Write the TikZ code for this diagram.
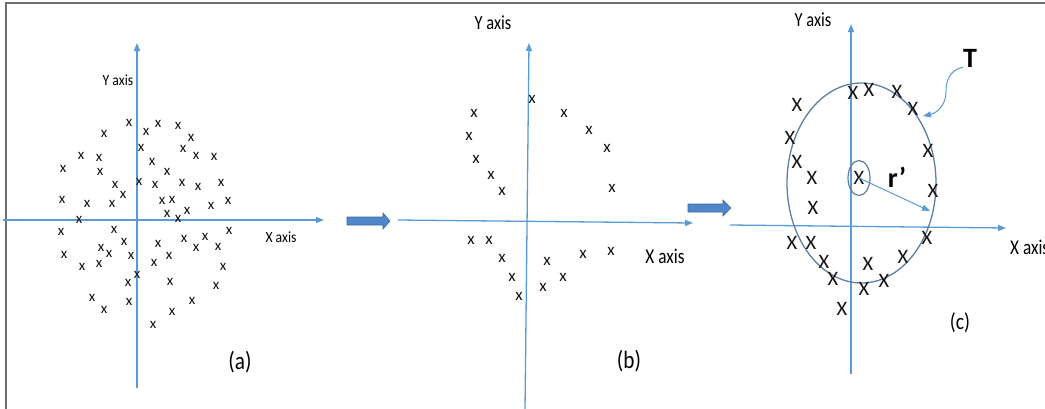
\documentclass[tikz,border=0pt]{standalone}
\usepackage{fontspec}
\setmainfont{Carlito}
\usetikzlibrary{arrows.meta}
\definecolor{axisblue}{RGB}{91,155,213}
\definecolor{ringblue}{RGB}{96,126,160}
\definecolor{blockfill}{RGB}{79,135,200}
\definecolor{blockline}{RGB}{60,105,160}
\definecolor{framegray}{RGB}{110,110,110}
\definecolor{ink}{RGB}{20,20,20}
\tikzset{
  axisline/.style={axisblue, line width=1.3pt, -{Triangle[length=8pt,width=6pt]}},
  ptA/.style={inner sep=0pt, text=ink, font=\fontsize{15}{15}\selectfont},
  ptB/.style={inner sep=0pt, text=ink, font=\fontsize{17}{17}\selectfont},
  ptC/.style={inner sep=0pt, text=ink, font=\fontsize{20.5}{21}\selectfont},
  lblsmall/.style={inner sep=0pt, xscale=0.88, font=\fontsize{15.5}{16}\selectfont},
  lblbig/.style={inner sep=0pt, xscale=0.82, font=\fontsize{21}{22}\selectfont},
  caption/.style={inner sep=0pt, xscale=0.85, font=\fontsize{25}{26}\selectfont},
  blockarrow/.style={fill=blockfill, draw=blockline, line width=0.6pt},
}
\begin{document}
\begin{tikzpicture}[x=1pt,y=-1pt]
\useasboundingbox (0,0) rectangle (1045,408);
% frame
\draw[framegray, line width=2pt] (5.5,410) -- (5.5,2.5) -- (1046,2.5);

% ---------- panel (a) ----------
\coordinate (aYb) at (137,388);
\coordinate (aYt) at (137,43);
\coordinate (aXl) at (3,220);
\coordinate (aXr) at (324,220);
\draw[axisline] (aYb) -- (aYt);
\draw[axisline] (aXl) -- (aXr);
\node[lblsmall] (aYl) at (118,80) {Y axis};
\node[lblsmall] (aXlab) at (281,237) {X axis};
\node[caption] (acap) at (240,362) {(a)};
\foreach \px/\py [count=\i] in {
 129/123,104/134,146/132,158/124,178/126,191/138,141/148,183/149,196/156,214/157,
 81/156,99/158,63/169,100/172,152/162,167/172,115/185,139/182,155/185,182/183,
 198/187,221/183,123/195,62/200,87/204,112/204,162/201,172/200,211/206,228/201,
 167/214,178/219,187/211,79/220,61/232,114/230,229/231,124/242,158/244,184/239,
 205/237,196/248,218/247,101/248,109/254,131/256,64/255,169/256,154/263,82/267,
 99/264,223/267,137/275,128/283,170/282,216/286,92/298,104/310,129/302,192/301,
 172/312,153/325}
  \node[ptA] (pa\i) at (\px,\py) {x};

% arrow (a) -> (b)
\draw[blockarrow] (347,217) -- (383,217) -- (383,213) -- (390,221) -- (383,229) -- (383,225) -- (347,225) -- cycle;

% ---------- panel (b) ----------
\coordinate (bYb) at (525,410);
\coordinate (bYt) at (529,43);
\coordinate (bXl) at (398,220);
\coordinate (bXr) at (693,223);
\draw[axisline] (bYb) -- (bYt);
\draw[axisline] (bXl) -- (bXr);
\node[lblbig, font=\fontsize{20}{21}\selectfont] (bYl) at (493,23) {Y axis};
\node[lblbig] (bXlab) at (665,256) {X axis};
\node[caption] (bcap) at (629,361) {(b)};
\foreach \px/\py [count=\i] in {
 532/99,474/113,564/113,469/136,589/130,476/159,607/148,491/175,502/191,612/188,
 471/240,489/240,502/258,547/261,583/254,611/251,512/277,563/277,543/287,519/296}
  \node[ptB] (pb\i) at (\px,\py) {x};

% arrow (b) -> (c)
\draw[blockarrow] (688,204) -- (723,204) -- (723,200) -- (731,208) -- (723,216) -- (723,212) -- (688,212) -- cycle;

% ---------- panel (c) ----------
\coordinate (cYb) at (851,374);
\coordinate (cYt) at (851,24);
\coordinate (cXl) at (730,225);
\coordinate (cXr) at (1006,228);
\draw[axisline] (cYb) -- (cYt);
\draw[axisline] (cXl) -- (cXr);
\draw[ringblue, line width=1.3pt] (861.5,183) ellipse [x radius=74.5, y radius=100];
\node[lblbig, font=\fontsize{20}{21}\selectfont] (cYl) at (813,20) {Y axis};
\node[lblbig, anchor=west] (cXlab) at (1010,247) {X axis};
\node[caption, font=\fontsize{23}{24}\selectfont] (ccap) at (960,323) {(c)};
\foreach \px/\py [count=\i] in {
 853/93,869/90,897/92,913/109,797/105,790/138,928/151,797/162,812/178,
 933/191,813/208,927/238,792/243,811/243,824/262,868/264,903/257,833/279,
 884/281,864/289,842/309}
  \node[ptC] (pc\i) at (\px,\py) {X};
% centre point with its small ring and the radius r'
\node[ptC] (ctr) at (859,178) {X};
\draw[ringblue, line width=1.2pt] (ctr.center) ellipse [x radius=11, y radius=17.5];
\coordinate (rim) at (930,211);
\draw[axisblue, line width=1pt, -{Triangle[length=8pt,width=6pt]}] (ctr.center) -- (rim);
\node[inner sep=0pt, font=\bfseries\fontsize{28}{29}\selectfont] (rp) at (897,177) {r’};
% label T pointing at the ring
\node[inner sep=0pt, font=\bfseries\fontsize{28}{29}\selectfont] (T) at (970,58) {T};
\coordinate (Ttip) at (923,116);
\draw[axisblue, line width=1pt, -{Triangle[length=8pt,width=6pt]}]
  (T.south west) .. controls (950,70) and (946,80) .. (946,92)
  .. controls (946,105) and (937,113) .. (Ttip);
\end{tikzpicture}
\end{document}
